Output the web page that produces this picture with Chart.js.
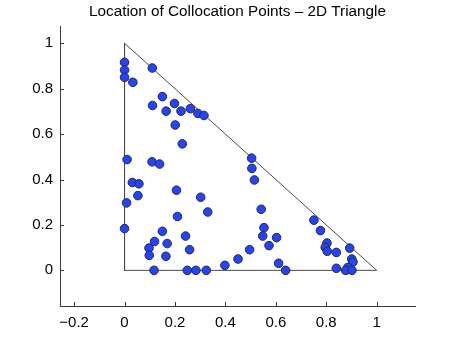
<!DOCTYPE html>
<html>
<head>
<meta charset="utf-8">
<script src="https://cdn.jsdelivr.net/npm/chart.js@4"></script>
<style>
  html, body { margin: 0; padding: 0; background: #fff; }
  #wrap { width: 457px; height: 344px; }
</style>
</head>
<body>
<div id="wrap"><canvas id="pointsChart" width="457" height="344"></canvas></div>
<script>
var titleText = "Location of Collocation Points \u2013 2D Triangle";

// collocation points
var px = [0, 0, 0, 0.033, 0.110, 0.150, 0.111, 0.165, 0.198, 0.224, 0.261, 0.291, 0.315,
  0.201, 0.229, 0.010, 0.109, 0.139, 0.504, 0.505, 0.515, 0.031, 0.057, 0.053, 0.008,
  0.206, 0.302, 0.330, 0.210, 0, 0.150, 0.242, 0.119, 0.169, 0.097, 0.258, 0.098, 0.164,
  0.117, 0.249, 0.283, 0.324, 0.398, 0.450, 0.496, 0.542, 0.553, 0.548, 0.603, 0.573,
  0.611, 0.639, 0.751, 0.777, 0.803, 0.796, 0.804, 0.840, 0.893, 0.901, 0.906, 0.840,
  0.886, 0.877, 0.902];
var py = [0.916, 0.882, 0.850, 0.828, 0.891, 0.765, 0.726, 0.701, 0.735, 0.701, 0.712, 0.691, 0.682,
  0.640, 0.557, 0.488, 0.478, 0.468, 0.494, 0.449, 0.398, 0.387, 0.381, 0.329, 0.297,
  0.353, 0.322, 0.257, 0.237, 0.184, 0.172, 0.151, 0.127, 0.118, 0.098, 0.091, 0.066, 0.062,
  0, 0, 0, 0, 0.022, 0.050, 0.091, 0.269, 0.188, 0.151, 0.144, 0.109,
  0.031, 0, 0.221, 0.175, 0.120, 0.101, 0.084, 0.079, 0.098, 0.050, 0.037, 0.009,
  0.013, 0, 0];

// triangle outline
var triX = [0, 1, 0, 0];
var triY = [0, 0, 1, 0];

var xTicks = [-0.2, 0, 0.2, 0.4, 0.6, 0.8, 1];
var yTicks = [0, 0.2, 0.4, 0.6, 0.8, 1];

var axisColor = "#3a3a3a";
var fontFamily = "'Liberation Sans', Arial, Helvetica, sans-serif";

function fmt(v) {
  var s = String(Math.round(v * 10) / 10);
  return s.replace("-", "\u2212");
}

// MATLAB style: ticks pointing into the axes, title centred over the plot area
var matlabAxes = {
  id: "matlabAxes",
  afterDraw: function (chart) {
    var c = chart.ctx, a = chart.chartArea;
    var xs = chart.scales.x, ys = chart.scales.y;
    c.save();
    c.strokeStyle = axisColor;
    c.lineWidth = 1;
    c.beginPath();
    xTicks.forEach(function (v) {
      var p = Math.round(xs.getPixelForValue(v)) + 0.5;
      c.moveTo(p, a.bottom);
      c.lineTo(p, a.bottom - 4);
    });
    yTicks.forEach(function (v) {
      var p = Math.round(ys.getPixelForValue(v)) + 0.5;
      c.moveTo(a.left, p);
      c.lineTo(a.left + 4, p);
    });
    c.stroke();
    c.fillStyle = "#000";
    c.font = "15.3px " + fontFamily;
    c.textAlign = "center";
    c.textBaseline = "alphabetic";
    c.fillText(titleText, (a.left + a.right) / 2, 16);
    c.restore();
  },
};

var ctx = document.getElementById("pointsChart").getContext("2d");

var chart = new Chart(ctx, {
  type: "scatter",
  data: {
    datasets: [
      {
        label: "Triangle",
        data: triX.map((x, i) => ({ x: x, y: triY[i] })),
        showLine: true,
        borderColor: "#4a4a4a",
        borderWidth: 1,
        pointRadius: 0,
        order: 2,
      },
      {
        label: "Points",
        data: px.map((x, i) => ({ x: x, y: py[i] })),
        backgroundColor: "#2344fa",
        borderColor: "#2a2a3a",
        borderWidth: 1,
        pointRadius: 4.3,
        order: 1,
      },
    ],
  },
  options: {
    responsive: false,
    animation: false,
    layout: { padding: { top: 26, right: 42, left: 0, bottom: 0 } },
    plugins: {
      legend: { display: false },
      title: { display: false },
      tooltip: { enabled: false },
    },
    scales: {
      x: {
        type: "linear",
        min: -0.256,
        max: 1.152,
        afterBuildTicks: function (s) {
          s.ticks = xTicks.map((v) => ({ value: v }));
        },
        afterFit: function (s) {
          s.height = 38;
        },
        grid: { display: false, drawTicks: false },
        border: { display: true, color: axisColor, width: 1 },
        ticks: {
          color: "#000",
          padding: 8,
          maxRotation: 0,
          font: { family: fontFamily, size: 15 },
          callback: (v) => fmt(v),
        },
      },
      y: {
        type: "linear",
        min: -0.157,
        max: 1.076,
        afterBuildTicks: function (s) {
          s.ticks = yTicks.map((v) => ({ value: v }));
        },
        afterFit: function (s) {
          s.width = 60;
        },
        grid: { display: false, drawTicks: false },
        border: { display: true, color: axisColor, width: 1 },
        ticks: {
          color: "#000",
          padding: 7,
          font: { family: fontFamily, size: 15 },
          callback: (v) => fmt(v),
        },
      },
    },
  },
  plugins: [matlabAxes],
});
</script>
</body>
</html>
